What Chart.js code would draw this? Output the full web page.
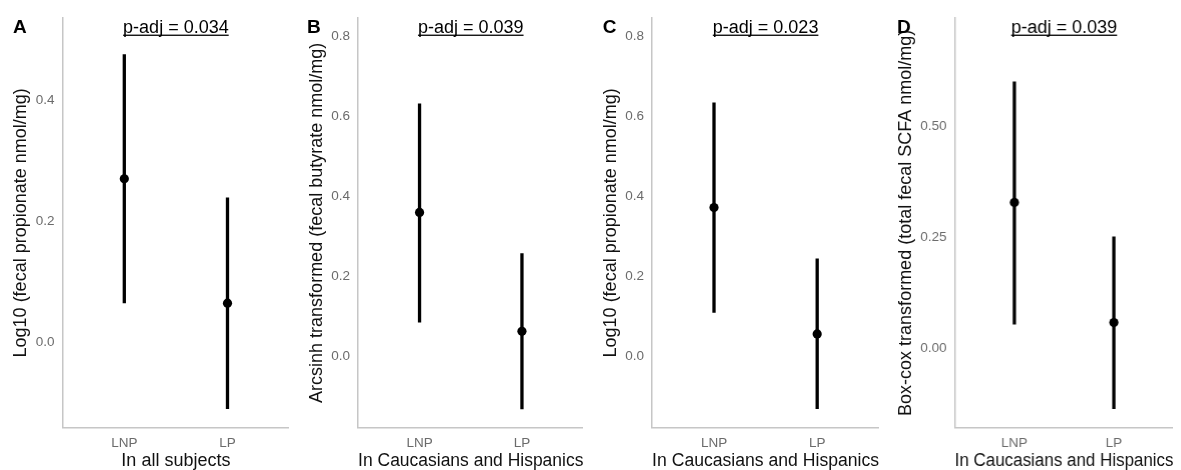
<!DOCTYPE html>
<html>
<head>
<meta charset="utf-8">
<title>SCFA by lean / non-lean group</title>
<script src="https://cdn.jsdelivr.net/npm/chart.js@4"></script>
<style>
  body { margin: 0; background: #fff; }
  #wrap { position: relative; width: 1181px; height: 470px; overflow: hidden; }
  .panel { position: absolute; top: 0; height: 470px; }
</style>
</head>
<body>
<div id="wrap">
  <div class="panel" id="pA"><canvas id="chartA"></canvas></div>
  <div class="panel" id="pB"><canvas id="chartB"></canvas></div>
  <div class="panel" id="pC"><canvas id="chartC"></canvas></div>
  <div class="panel" id="pD"><canvas id="chartD"></canvas></div>
</div>
<script>
const FONT = '"Liberation Sans", Arial, Helvetica, sans-serif';

// categories + labels
const groups = ['LNP', 'LP'];
const panelLetters = ['A', 'B', 'C', 'D'];
const pAdjLabels = ['p-adj = 0.034', 'p-adj = 0.039', 'p-adj = 0.023', 'p-adj = 0.039'];
const yTitles = [
  'Log10 (fecal propionate nmol/mg)',
  'Arcsinh transformed (fecal butyrate nmol/mg)',
  'Log10 (fecal propionate nmol/mg)',
  'Box-cox transformed (total fecal SCFA nmol/mg)'
];
const xTitles = ['In all subjects', 'In Caucasians and Hispanics', 'In Caucasians and Hispanics', 'In Caucasians and Hispanics'];

// mean and interval per group (LNP, LP)
const meanA = [0.270, 0.064];
const lowA = [0.064, -0.111];
const highA = [0.476, 0.239];

const meanB = [0.359, 0.062];
const lowB = [0.084, -0.133];
const highB = [0.631, 0.257];

const meanC = [0.372, 0.055];
const lowC = [0.108, -0.133];
const highC = [0.635, 0.244];

const meanD = [0.329, 0.058];
const lowD = [0.054, -0.137];
const highD = [0.602, 0.252];

// y axis ticks and limits
const yTicksA = [0.0, 0.2, 0.4];
const yTicksB = [0.0, 0.2, 0.4, 0.6, 0.8];
const yTicksC = [0.0, 0.2, 0.4, 0.6, 0.8];
const yTicksD = [0.00, 0.25, 0.50];
const yDecimals = [1, 1, 1, 2];
const yMin = [-0.142, -0.179, -0.180, -0.179];
const yMax = [0.536, 0.845, 0.847, 0.745];

// where each panel sits on the page
const layout = [
  { el: 'pA', left: 9.6, width: 279.4, axisWidth: 52.4, letterX: 3.1 },
  { el: 'pB', left: 305.6, width: 277.4, axisWidth: 52.1, letterX: 1.1 },
  { el: 'pC', left: 599.6, width: 279.1, axisWidth: 52.1, letterX: 2.7 },
  { el: 'pD', left: 895.2, width: 277.5, axisWidth: 59.5, letterX: 2.1 }
];

const panels = [
  { id: 'chartA', mean: meanA, low: lowA, high: highA, ticks: yTicksA },
  { id: 'chartB', mean: meanB, low: lowB, high: highB, ticks: yTicksB },
  { id: 'chartC', mean: meanC, low: lowC, high: highC, ticks: yTicksC },
  { id: 'chartD', mean: meanD, low: lowD, high: highD, ticks: yTicksD }
];

// panel letter + underlined p-adj label above the plot
const annotate = {
  id: 'annotate',
  afterDraw(chart, args, opts) {
    const ctx = chart.ctx;
    const area = chart.chartArea;
    ctx.save();
    ctx.fillStyle = '#000';
    ctx.textBaseline = 'alphabetic';
    ctx.font = 'bold 19px ' + FONT;
    ctx.textAlign = 'left';
    ctx.fillText(opts.letter, opts.letterX, 33);

    ctx.font = '18px ' + FONT;
    ctx.textAlign = 'center';
    const cx = (area.left + area.right) / 2;
    ctx.fillText(opts.pAdj, cx, 32.5);
    const w = ctx.measureText(opts.pAdj).width;
    ctx.fillRect(cx - w / 2, 34.6, w, 1.3);
    ctx.restore();
  }
};

panels.forEach(function (p, i) {
  const box = layout[i];
  const holder = document.getElementById(box.el);
  holder.style.left = box.left + 'px';
  holder.style.width = box.width + 'px';

  // one vertical segment per group
  const intervalSets = groups.map(function (g, k) {
    return {
      type: 'line',
      data: [{ x: k + 1, y: p.low[k] }, { x: k + 1, y: p.high[k] }],
      borderColor: '#000',
      borderWidth: 3.3,
      pointRadius: 0,
      fill: false
    };
  });

  const meanSet = {
    type: 'scatter',
    data: groups.map((g, k) => ({ x: k + 1, y: p.mean[k] })),
    backgroundColor: '#000',
    borderColor: '#000',
    pointRadius: 4.6,
    pointHoverRadius: 4.6,
    borderWidth: 0
  };

  new Chart(document.getElementById(p.id), {
    type: 'scatter',
    data: { datasets: [meanSet].concat(intervalSets) },
    options: {
      responsive: true,
      maintainAspectRatio: false,
      animation: false,
      events: [],
      layout: { autoPadding: false, padding: { top: 18, right: 0, bottom: 0, left: 0 } },
      plugins: {
        legend: { display: false },
        tooltip: { enabled: false },
        annotate: { letter: panelLetters[i], pAdj: pAdjLabels[i], letterX: box.letterX }
      },
      scales: {
        x: {
          type: 'linear',
          min: 0.4,
          max: 2.6,
          afterBuildTicks: (scale) => { scale.ticks = groups.map((g, k) => ({ value: k + 1 })); },
          afterFit: (scale) => {
            scale.height = 42.3;
            scale.paddingLeft = 0;
            scale.paddingRight = 0;
          },
          grid: { display: false, drawTicks: false },
          border: { color: '#c6c6c6', width: 1.5 },
          ticks: {
            color: '#6b6b6b',
            padding: 7,
            font: { size: 13.5, family: FONT },
            callback: (v) => groups[Math.round(v) - 1]
          },
          title: {
            display: true,
            text: xTitles[i],
            color: '#111',
            padding: { top: 0, bottom: -2 },
            font: { size: 18, family: FONT }
          }
        },
        y: {
          type: 'linear',
          min: yMin[i],
          max: yMax[i],
          afterBuildTicks: (scale) => { scale.ticks = p.ticks.map(v => ({ value: v })); },
          afterFit: (scale) => {
            scale.width = box.axisWidth;
            scale.paddingTop = 0;
            scale.paddingBottom = 0;
          },
          grid: { display: false, drawTicks: false },
          border: { color: '#c6c6c6', width: 1.5 },
          ticks: {
            color: '#6b6b6b',
            padding: 8,
            font: { size: 13.5, family: FONT },
            callback: (v) => Number(v).toFixed(yDecimals[i])
          },
          title: {
            display: true,
            text: yTitles[i],
            color: '#111',
            padding: { top: 0, bottom: 0 },
            font: { size: 18, family: FONT }
          }
        }
      }
    },
    plugins: [annotate]
  });
});
</script>
</body>
</html>
